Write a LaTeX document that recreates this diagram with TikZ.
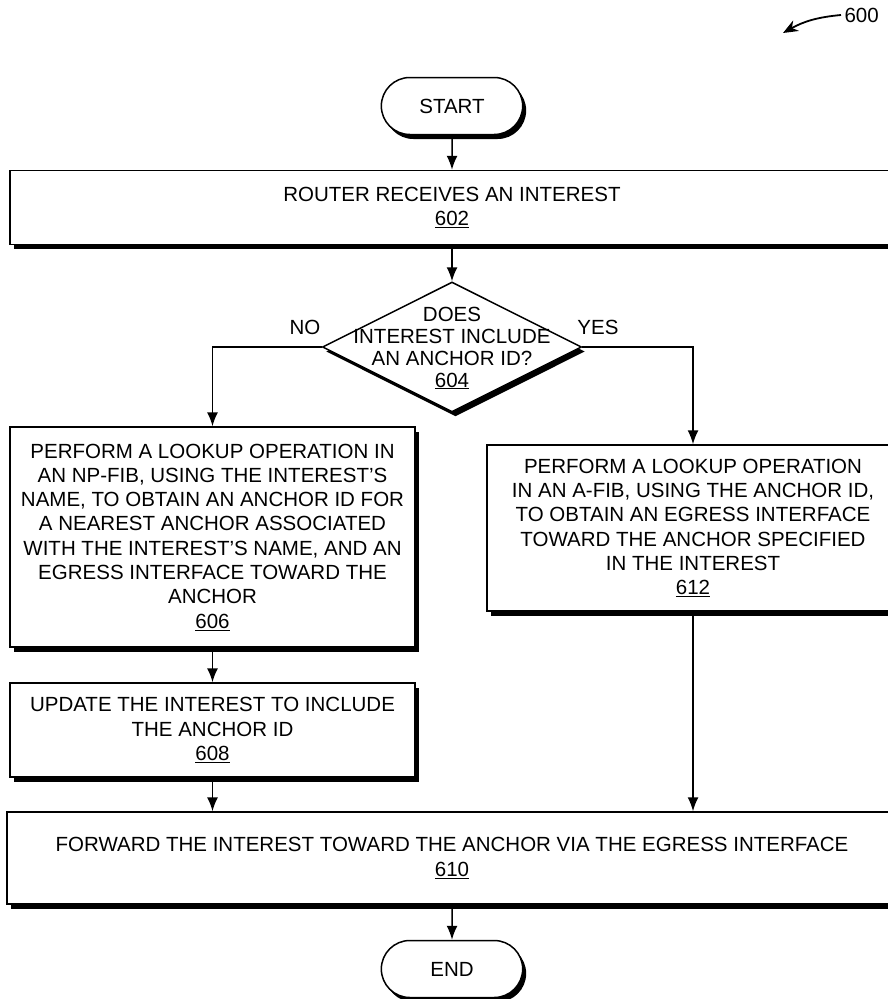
\documentclass[tikz,border=0pt]{standalone}
\usepackage{fontspec}
\setmainfont{Liberation Sans}
\usetikzlibrary{shapes.geometric, shapes.misc, shadows, arrows.meta}

\tikzset{
  txt/.style={font=\fontsize{20.5pt}{24.3pt}\selectfont, align=center},
  shade box/.style={draw, line width=1.5pt, fill=white,
    drop shadow={shadow xshift=3.5pt, shadow yshift=-4.5pt, fill=black, opacity=1}},
  procbox/.style={shade box, txt, rectangle, inner sep=2pt},
  termbox/.style={shade box, txt, rounded rectangle, minimum width=148pt, minimum height=57pt},
  decision/.style={shade box, diamond, minimum width=259pt, minimum height=130pt, inner sep=0pt},
  flow/.style={line width=1.5pt, -{Latex[length=14pt,width=11pt]}}
}

\begin{document}
\begin{tikzpicture}[x=1pt, y=-1pt]
  % Page frame
  \path[use as bounding box, clip] (0,0) rectangle (888,999);

  % Figure number
  \node[txt, anchor=west] (l600) at (841,15) {600};
  \coordinate (p600) at (783,33);
  \draw[line width=1.8pt, -{Stealth[length=15pt,width=12pt]}] (l600.west) to[bend right=12] (p600);

  % Terminals
  \node[termbox] (start) at (452,106) {START};
  \node[termbox] (end) at (452,969) {END};

  % Steps
  \node[procbox, minimum width=884pt, minimum height=74pt] (b602) at (452,207.5)
    {ROUTER RECEIVES AN INTEREST\\\underline{602}};
  \node[decision] (d604) at (452,347) {};
  \node[txt, font=\fontsize{20.5pt}{22pt}\selectfont] (t604) at (452,348)
    {DOES\\INTEREST INCLUDE\\AN ANCHOR ID?\\\underline{604}};
  \node[procbox, minimum width=405pt, minimum height=220pt] (b606) at (212.5,537)
    {PERFORM A LOOKUP OPERATION IN\\AN NP-FIB, USING THE INTEREST'S\\NAME, TO OBTAIN AN ANCHOR ID FOR\\A NEAREST ANCHOR ASSOCIATED\\WITH THE INTEREST'S NAME, AND AN\\EGRESS INTERFACE TOWARD THE\\ANCHOR\\\underline{606}};
  \node[procbox, minimum width=405pt, minimum height=94pt] (b608) at (212.5,730)
    {UPDATE THE INTEREST TO INCLUDE\\THE ANCHOR ID\\\underline{608}};
  \node[procbox, minimum width=412pt, minimum height=166pt] (b612) at (693,528)
    {PERFORM A LOOKUP OPERATION\\IN AN A-FIB, USING THE ANCHOR ID,\\TO OBTAIN AN EGRESS INTERFACE\\TOWARD THE ANCHOR SPECIFIED\\IN THE INTEREST\\\underline{612}};
  \node[procbox, minimum width=890pt, minimum height=92pt] (b610) at (452,858)
    {FORWARD THE INTEREST TOWARD THE ANCHOR VIA THE EGRESS INTERFACE\\\underline{610}};

  % Branch labels
  \node[txt] (no) at (305,327) {NO};
  \node[txt] (yes) at (598,327) {YES};

  % Connectors
  \draw[flow] (start) -- (b602);
  \draw[flow] (b602) -- (d604);
  \draw[flow] (d604.west) -| (b606.north);
  \draw[flow] (d604.east) -| (b612.north);
  \draw[flow] (b606) -- (b608);
  \draw[flow] (b608.south) -- (b608.south |- b610.north);
  \draw[flow] (b612.south) -- (b612.south |- b610.north);
  \draw[flow] (b610.south -| end) -- (end);
\end{tikzpicture}
\end{document}
